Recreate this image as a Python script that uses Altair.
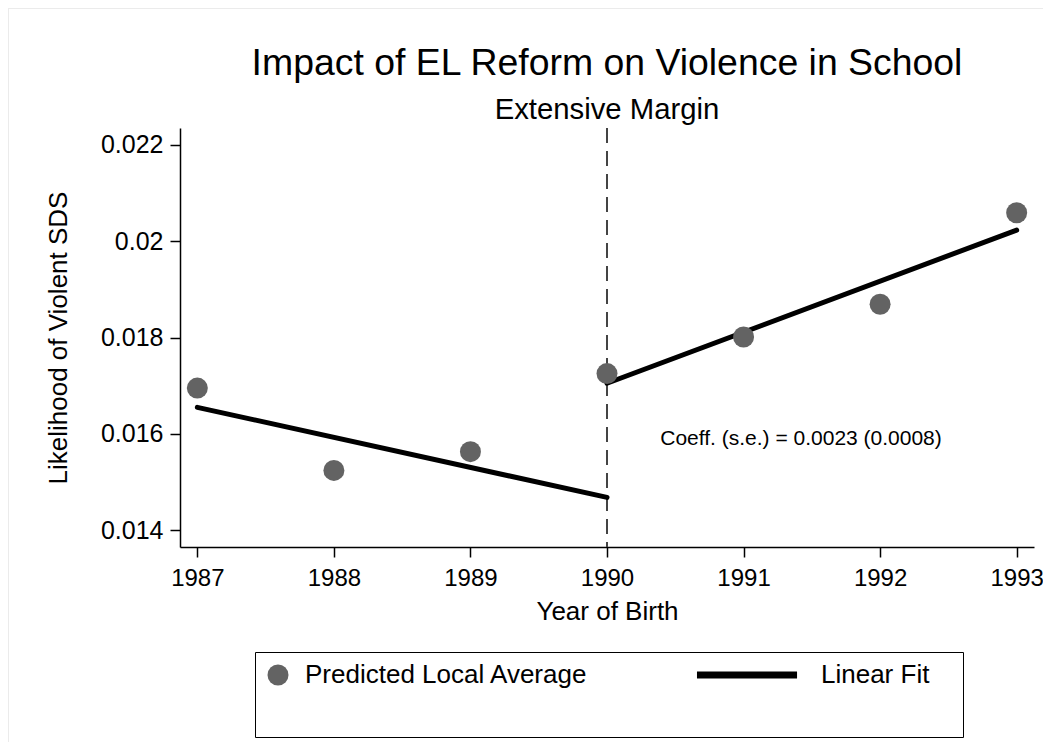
import altair as alt
import pandas as pd

FONT = "Liberation Sans"

# ---- data ----
years = [1987, 1988, 1989, 1990, 1991, 1992, 1993]
local_avg = [0.01695, 0.01524, 0.01563, 0.01725, 0.01801, 0.01869, 0.02059]

fit_segment = ["pre", "pre", "post", "post"]
fit_years = [1987, 1990, 1990, 1993]
fit_values = [0.01655, 0.01468, 0.01705, 0.02023]

cutoff_year = [1990]

note_text = ["Coeff. (s.e.) = 0.0023 (0.0008)"]
note_x = [1990.39]
note_y = [0.01589]

y_ticks = [0.014, 0.016, 0.018, 0.020, 0.022]
x_ticks = [1987, 1988, 1989, 1990, 1991, 1992, 1993]

series_names = ["Predicted Local Average", "Linear Fit"]
LINE_SYMBOL = "M-9.24,-0.33L0.29,-0.33L0.29,0.33L-9.24,0.33Z M15.1,0"

pts = pd.DataFrame({"year": years, "value": local_avg, "series": series_names[0]})
fit = pd.DataFrame({"seg": fit_segment, "year": fit_years, "value": fit_values})
cut = pd.DataFrame({"year": cutoff_year})
note = pd.DataFrame({"txt": note_text, "year": note_x, "value": note_y})

xscale = alt.Scale(domain=[1986.873, 1993.127], nice=False, zero=False)
yscale = alt.Scale(domain=[0.01365, 0.02235], nice=False, zero=False)

x_axis = alt.Axis(values=x_ticks, format="d", title="Year of Birth",
                  labelPadding=9, titlePadding=8, labelFontSize=24)
y_axis = alt.Axis(values=y_ticks, format=".3~f", title="Likelihood of Violent SDS",
                  labelPadding=7, titlePadding=29)

X = alt.X("year:Q", scale=xscale, axis=x_axis)
Y = alt.Y("value:Q", scale=yscale, axis=y_axis)

legend = alt.Legend(
    title=" ", titleOrient="bottom", titleFontSize=26, titlePadding=13,
    orient="none", legendX=75, legendY=524,
    direction="horizontal", columns=2, columnPadding=108,
    symbolSize=441, symbolStrokeWidth=0, symbolOpacity=1,
    labelFont=FONT, labelFontSize=26, labelColor="black",
    labelOffset=14, labelLimit=400,
    strokeColor="#000000", padding=10, fillColor="white",
)

# faint outer frame of the graph region (decoration, pixel space)
frame_df = pd.DataFrame({"k": [0]})
frame_top = alt.Chart(frame_df).mark_rule(color="#ebebeb", strokeWidth=2).encode(
    x=alt.value(-172), x2=alt.value(863), y=alt.value(-120)
)
frame_left = alt.Chart(frame_df).mark_rule(color="#ebebeb", strokeWidth=2).encode(
    x=alt.value(-172), y=alt.value(-120), y2=alt.value(614)
)

rule = alt.Chart(cut).mark_rule(color="#444444", strokeWidth=2, strokeDash=[15, 8]).encode(
    x=alt.X("year:Q", scale=xscale, axis=x_axis)
)

lines = alt.Chart(fit).mark_line(strokeWidth=5, strokeCap="round", color="#000000").encode(
    x=X, y=Y, detail="seg:N",
)

points = alt.Chart(pts).mark_point(filled=True, size=441, opacity=1, strokeWidth=0).encode(
    x=X, y=Y,
    color=alt.Color("series:N",
                    scale=alt.Scale(domain=series_names, range=["#636363", "#000000"]),
                    legend=legend),
    shape=alt.Shape("series:N",
                    scale=alt.Scale(domain=series_names, range=["circle", LINE_SYMBOL]),
                    legend=legend),
)

text = alt.Chart(note).mark_text(align="left", baseline="middle", font=FONT,
                                 fontSize=21, color="black").encode(
    x=X, y=Y, text="txt:N"
)

chart = alt.layer(frame_top, frame_left, rule, lines, points, text).properties(
    width=854, height=419,
    background="white",
    title=alt.TitleParams(
        text="Impact of EL Reform on Violence in School",
        subtitle="Extensive Margin",
        font=FONT, subtitleFont=FONT, fontSize=37.4, subtitleFontSize=29.3,
        fontWeight="normal", color="black", subtitleColor="black",
        anchor="middle", frame="group", offset=-118, subtitlePadding=13,
    ),
    autosize=alt.AutoSizeParams(type="none"),
    padding={"left": 172, "top": 120, "right": 9, "bottom": 195},
).configure_view(stroke=None).configure_axis(
    grid=False, domainColor="black", domainWidth=1.5, tickColor="black", tickWidth=1.5,
    tickSize=10, labelFont=FONT, labelFontSize=25, labelColor="black",
    titleFont=FONT, titleFontSize=26, titleFontWeight="normal", titleColor="black",
)

chart.save("out.html", embed_options={"renderer": "svg", "actions": False})
